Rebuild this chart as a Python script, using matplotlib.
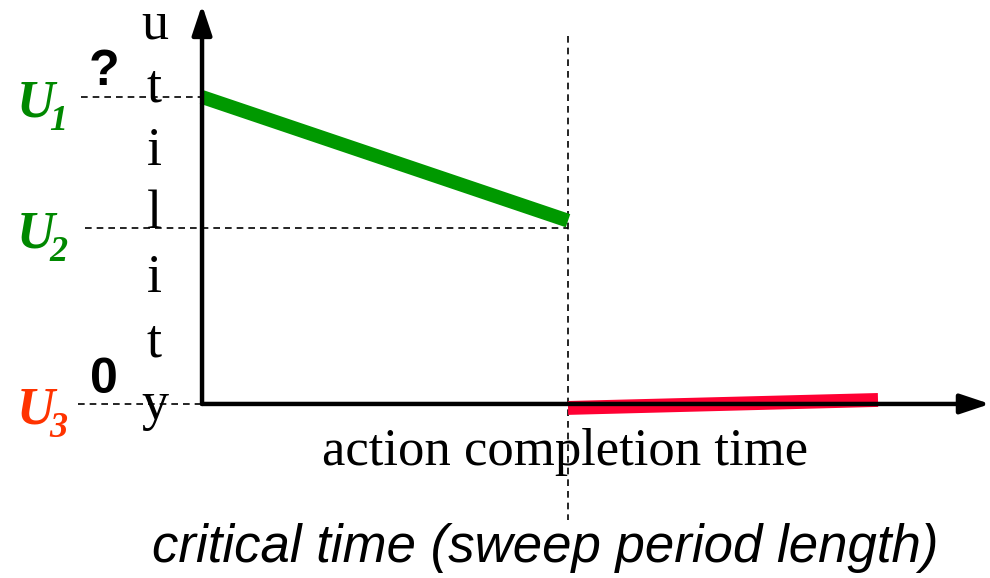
import matplotlib.pyplot as plt

# time axis: critical time = 1.0 ; utility axis: U1 = 1.0
critical_time = 1.0
t_end_red = 1.847
green_t = [0.0, critical_time]
green_u = [1.0, 0.597]
red_t = [critical_time, t_end_red]
red_u = [-0.013, 0.013]
u_levels = [1.0, 0.574, 0.0]
u_names = ['1', '2', '3']
u_colors = ['#008800', '#008800', '#ff3300']
axis_label_letters = list('utility')

fig = plt.figure(figsize=(9.9, 5.78), dpi=100)
ax = fig.add_axes([0, 0, 1, 1])
ax.set_xlim(-0.552, 2.153)
ax.set_ylim(-0.567, 1.316)
ax.axis('off')

# axes with arrows
arrow = dict(arrowstyle='-|>,head_length=0.9,head_width=0.3', lw=3.2, color='black',
             shrinkA=0, shrinkB=0, mutation_scale=20)
ax.annotate('', xy=(2.153, 0), xytext=(0, 0), arrowprops=arrow)
ax.annotate('', xy=(0, 1.30), xytext=(0, 0), arrowprops=arrow)

# dashed guides
ax.plot([-0.33, 0], [u_levels[0]] * 2, ls=(0, (4, 3)), color='black', lw=1.2)
ax.plot([-0.32, critical_time], [u_levels[1]] * 2, ls=(0, (4, 3)), color='black', lw=1.2)
ax.plot([-0.34, 0], [u_levels[2]] * 2, ls=(0, (4, 3)), color='black', lw=1.2)
ax.plot([critical_time] * 2, [1.2, -0.378], ls=(0, (4, 3)), color='black', lw=1.2)

ax.plot(green_t, green_u, color='#009900', lw=10, solid_capstyle='butt')
ax.plot(red_t, red_u, color='#ff0033', lw=10, solid_capstyle='butt')

# level labels
for lvl, name, col in zip(u_levels, u_names, u_colors):
    ax.text(-0.505, lvl - 0.065, 'U', color=col, fontsize=38, fontweight='bold', style='italic',
            family='Liberation Serif', ha='left', va='baseline')
    ax.text(-0.418, lvl - 0.107, name, color=col, fontsize=26, fontweight='bold', style='italic',
            family='Liberation Serif', ha='left', va='baseline')

ax.text(-0.268, 1.039, '?', fontsize=36, fontweight='bold', family='Liberation Sans',
        ha='center', va='baseline')
ax.text(-0.268, 0.036, '0', fontsize=36, fontweight='bold', family='Liberation Sans',
        ha='center', va='baseline')

letter_y = [1.192, 0.984, 0.779, 0.573, 0.365, 0.156, -0.049]
for ch, y in zip(axis_label_letters, letter_y):
    ax.text(-0.13, y, ch, fontsize=39, family='Liberation Serif', ha='center', va='baseline')

ax.text(0.992, -0.199, 'action completion time', fontsize=38, family='Liberation Serif',
        ha='center', va='baseline')
ax.text(0.937, -0.515, 'critical time (sweep period length)', fontsize=38, style='italic',
        family='Liberation Sans', ha='center', va='baseline')

fig.savefig('out.png', dpi=100)
